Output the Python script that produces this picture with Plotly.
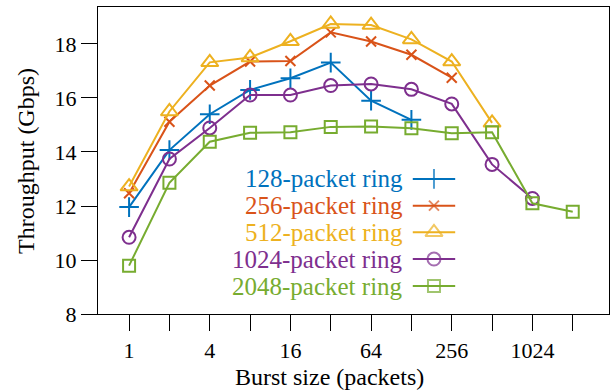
import plotly.graph_objects as go

burst = [1, 2, 4, 8, 16, 32, 64, 128, 256, 512, 1024, 2048]
ring_128 = [11.96, 14.07, 15.40, 16.30, 16.73, 17.31, 15.90, 15.19]
ring_256 = [12.47, 15.12, 16.46, 17.35, 17.37, 18.43, 18.09, 17.60, 16.75]
ring_512 = [12.72, 15.50, 17.32, 17.50, 18.10, 18.74, 18.70, 18.17, 17.35, 15.08]
ring_1024 = [10.84, 13.74, 14.89, 16.11, 16.11, 16.46, 16.52, 16.32, 15.78, 13.54, 12.28]
ring_2048 = [9.79, 12.86, 14.38, 14.71, 14.73, 14.93, 14.94, 14.88, 14.69, 14.73, 12.10, 11.79]

names = ["128-packet ring", "256-packet ring", "512-packet ring", "1024-packet ring", "2048-packet ring"]
series = [ring_128, ring_256, ring_512, ring_1024, ring_2048]
colors = ["#0072BD", "#D95319", "#EDB120", "#7E2F8E", "#77AC30"]
symbols = ["cross-thin-open", "x-thin-open", "triangle-up-open", "circle-open", "square-open"]
sizes = [14, 10, 15, 13, 12]

x_tickvals = burst
x_ticktext = ["1", "", "4", "", "16", "", "64", "", "256", "", "1024", ""]
y_tickvals = [8, 10, 12, 14, 16, 18]

FONT = "Liberation Serif"
FS = 22
FS_LEG = 25
FS_TITLE = 24

fig = go.Figure()
for name, vals, c, s, sz in zip(names, series, colors, symbols, sizes):
    fig.add_trace(go.Scatter(
        x=burst[:len(vals)], y=vals, mode="lines+markers", name=name,
        line=dict(color=c, width=2),
        marker=dict(symbol=s, size=sz, color=c, line=dict(color=c, width=2)),
        showlegend=False,
    ))

# manual legend: text right-aligned, key on the right
row_y = [0.440, 0.353, 0.266, 0.179, 0.091]
kx0, kx1 = 0.616, 0.699
for name, c, s, sz, ry in zip(names, colors, symbols, sizes, row_y):
    fig.add_trace(go.Scatter(
        x=[kx0, (kx0 + kx1) / 2, kx1], y=[ry, ry, ry], mode="lines+markers",
        xaxis="x2", yaxis="y2", showlegend=False, hoverinfo="skip",
        line=dict(color=c, width=2),
        marker=dict(symbol=s, size=[0, sz, 0], color=c, line=dict(color=c, width=2)),
    ))
    fig.add_annotation(x=0.601, y=ry, xref="paper", yref="paper", text=name,
                       showarrow=False, xanchor="right", yanchor="middle",
                       font=dict(family=FONT, size=FS_LEG, color=c))

fig.add_annotation(x=-0.142, y=0.5, xref="paper", yref="paper", text="Throughput (Gbps)",
                   textangle=-90, showarrow=False, xanchor="center", yanchor="middle",
                   font=dict(family=FONT, size=FS_TITLE, color="black"))
fig.add_annotation(x=0.454, y=-0.205, xref="paper", yref="paper", text="Burst size (packets)",
                   showarrow=False, xanchor="center", yanchor="middle",
                   font=dict(family=FONT, size=FS_TITLE, color="black"))

axis_common = dict(showline=True, linecolor="black", linewidth=1.3, mirror=True,
                   showgrid=False, zeroline=False, ticks="outside", tickcolor="black",
                   tickwidth=1.3, automargin=False,
                   tickfont=dict(family=FONT, size=FS, color="black"))

fig.update_layout(
    width=614, height=390,
    margin=dict(l=98, r=5, t=7, b=76),
    paper_bgcolor="white", plot_bgcolor="white",
    xaxis=dict(type="log", range=[-0.232, 3.582], tickvals=x_tickvals, ticktext=x_ticktext,
               ticklen=16, **axis_common),
    yaxis=dict(range=[8, 19.37], tickvals=y_tickvals, ticklen=16, **axis_common),
    xaxis2=dict(overlaying="x", range=[0, 1], visible=False, domain=[0, 1], anchor="y2"),
    yaxis2=dict(overlaying="y", range=[0, 1], visible=False, domain=[0, 1], anchor="x2"),
)

fig.write_html("out.html", config={"displayModeBar": False},
               post_script="document.body.style.margin='0px';")
